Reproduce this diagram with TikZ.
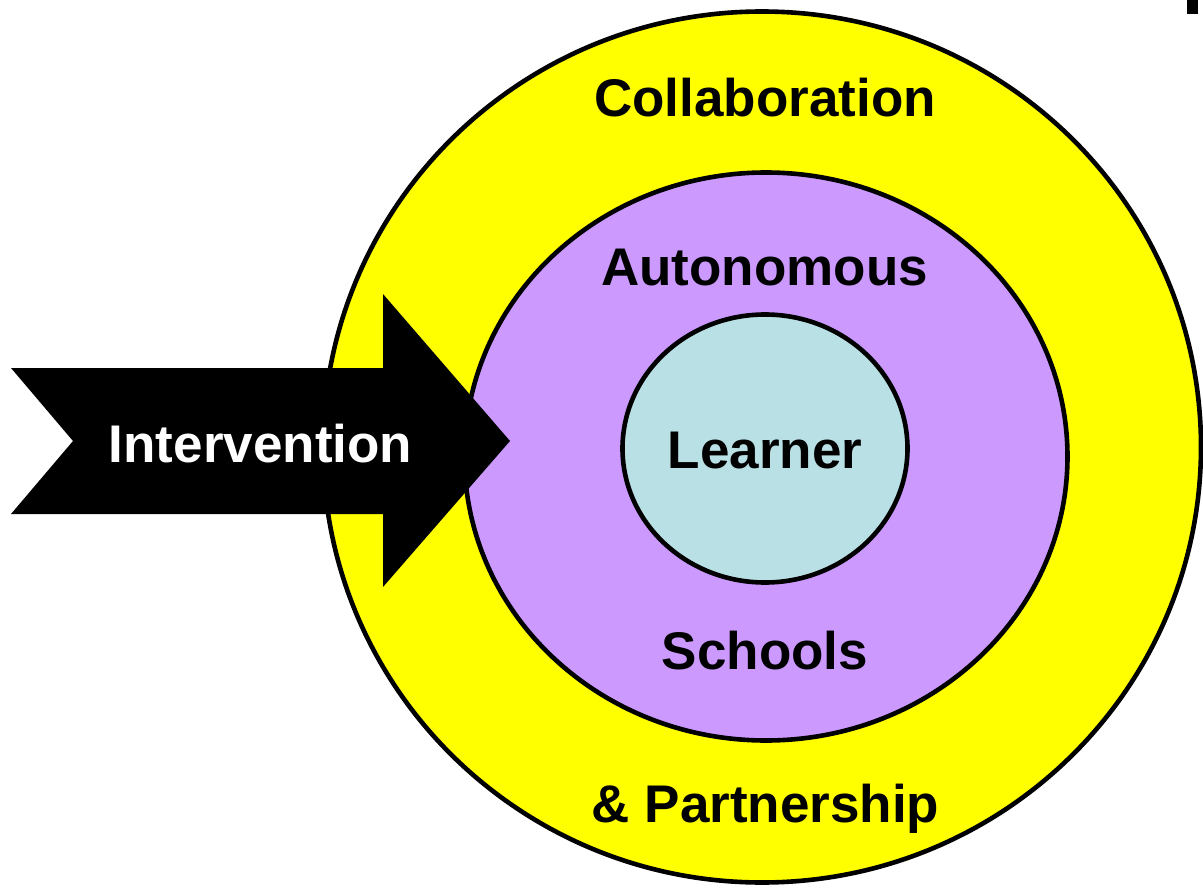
\documentclass[tikz,border=0pt]{standalone}
\usepackage{fontspec}
\setmainfont{Liberation Sans}
\usetikzlibrary{shapes.geometric}
\definecolor{ringyellow}{HTML}{FFFF00}
\definecolor{ringpurple}{HTML}{CC99FF}
\definecolor{corecyan}{HTML}{B9E0E4}
\begin{document}
\begin{tikzpicture}[x=1pt,y=-1pt,
  ring/.style={ellipse, draw=black, line width=4.6pt, inner sep=0pt, outer sep=0pt},
  lbl/.style={anchor=base, font=\bfseries\fontsize{53}{60}\selectfont, inner sep=0pt, text=black}]
\useasboundingbox (0,0) rectangle (1203,888);
% rings
\node[ring, fill=ringyellow, minimum width=878pt, minimum height=871pt] (outer) at (762,447) {};
\node[ring, fill=ringpurple, minimum width=603pt, minimum height=568pt] (middle) at (766,456.5) {};
\node[ring, fill=corecyan, minimum width=285pt, minimum height=268pt] (core) at (765,448.5) {};
% intervention arrow
\fill[black] (11,368) -- (383,368) -- (383,294) -- (510,441) -- (383,587)
  -- (383,514) -- (11,514) -- (73,441) -- cycle;
% labels
\node[lbl] (collab) at (765,117) {Collaboration};
\node[lbl] (auto) at (764.5,285) {Autonomous};
\node[lbl] (learner) at (765,468) {Learner};
\node[lbl] (schools) at (765,669) {Schools};
\node[lbl] (partner) at (765.5,822) {\& Partnership};
\node[lbl, text=white] (interv) at (260.5,462) {Intervention};
% corner fragment
\fill[black] (1187,0) rectangle (1198,14);
\end{tikzpicture}
\end{document}
